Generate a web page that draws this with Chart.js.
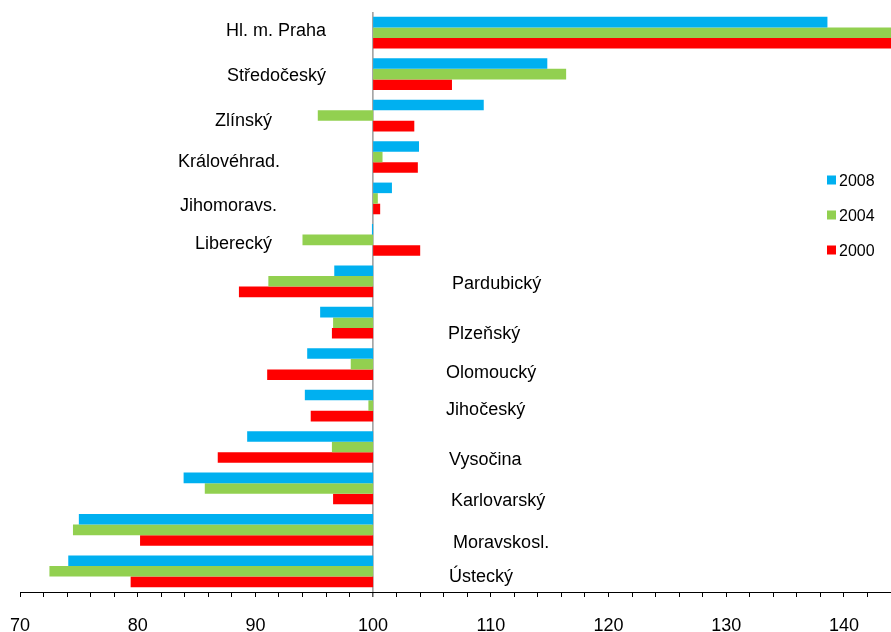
<!DOCTYPE html>
<html>
<head>
<meta charset="utf-8">
<script src="https://cdn.jsdelivr.net/npm/chart.js@4.4.0/dist/chart.umd.min.js"></script>
<style>
  html, body { margin: 0; padding: 0; background: #fff; }
  #wrap { width: 891px; height: 632px; }
</style>
</head>
<body>
<div id="wrap"><canvas id="chartRegions"></canvas></div>
<script>
// Regional index, base 100
const regions = ['Hl. m. Praha', 'Středočeský', 'Zlínský', 'Královéhrad.', 'Jihomoravs.', 'Liberecký',
  'Pardubický', 'Plzeňský', 'Olomoucký', 'Jihočeský', 'Vysočina', 'Karlovarský', 'Moravskosl.', 'Ústecký'];
const values2008 = [138.6, 114.8, 109.4, 103.9, 101.6, 99.9, 96.7, 95.5, 94.4, 94.2, 89.3, 83.9, 75.0, 74.1];
const values2004 = [148.0, 116.4, 95.3, 100.8, 100.4, 94.0, 91.1, 96.6, 98.1, 99.6, 96.5, 85.7, 74.5, 72.5];
const values2000 = [152.0, 106.7, 103.5, 103.8, 100.6, 104.0, 88.6, 96.5, 91.0, 94.7, 86.8, 96.6, 80.2, 79.4];
const baseValue = 100;
const xTickLabels = [70, 80, 90, 100, 110, 120, 130, 140];

// where each region name sits: px from the 100 line (negative = left side, right-aligned), px from row centre
const labelPlacement = [[-47, -3], [-47, 0], [-101, 3.5], [-93, 3], [-96, 5.6], [-101, 3],
  [79, 1.7], [75, 9.8], [73, 7.8], [73, 3.4], [76, 11], [78, 11], [80, 11.6], [76, 4.5]];

const FONT = '"Liberation Sans", Arial, sans-serif';

const regionLabels = {
  id: 'regionLabels',
  afterDatasetsDraw(chart) {
    const { ctx, chartArea, scales: { x, y } } = chart;
    const x0 = x.getPixelForValue(baseValue);
    ctx.save();
    ctx.fillStyle = '#000';
    ctx.textBaseline = 'alphabetic';
    ctx.font = '18px ' + FONT;
    regions.forEach((name, i) => {
      const [dx, dy] = labelPlacement[i];
      ctx.textAlign = dx < 0 ? 'right' : 'left';
      ctx.fillText(name, x0 + dx, y.getPixelForValue(i) + dy + 6.5);
    });

    // legend on the right
    ctx.font = '16px ' + FONT;
    ctx.textAlign = 'left';
    chart.data.datasets.forEach((ds, i) => {
      const cy = chartArea.top + 168 + i * 35;
      const lx = chartArea.right - 64;
      ctx.fillStyle = ds.backgroundColor;
      ctx.fillRect(lx, cy - 4.5, 9, 9);
      ctx.fillStyle = '#000';
      ctx.fillText(ds.label, lx + 12, cy + 6);
    });
    ctx.restore();
  }
};

const ctxRegions = document.getElementById('chartRegions').getContext('2d');

new Chart(ctxRegions, {
  type: 'bar',
  data: {
    labels: regions,
    datasets: [
      { label: '2008', data: values2008.map(v => [baseValue, v]), backgroundColor: '#00B0F0' },
      { label: '2004', data: values2004.map(v => [baseValue, v]), backgroundColor: '#92D050' },
      { label: '2000', data: values2000.map(v => [baseValue, v]), backgroundColor: '#FF0000' }
    ]
  },
  options: {
    indexAxis: 'y',
    responsive: true,
    maintainAspectRatio: false,
    animation: false,
    // tall tick line box pushes the numbers down; negative bottom lets it run past the edge
    layout: { padding: { top: 12, left: 20, right: 0, bottom: -23 } },
    datasets: {
      bar: { categoryPercentage: 0.765, barPercentage: 1, borderWidth: 0 }
    },
    plugins: {
      legend: { display: false },
      tooltip: { enabled: false }
    },
    scales: {
      x: {
        type: 'linear',
        min: 70,
        max: 144,
        border: { display: true, color: '#000', width: 1 },
        grid: {
          color: c => (c.tick && c.tick.value === baseValue ? '#A6A6A6' : 'rgba(0,0,0,0)'),
          lineWidth: c => (c.tick && c.tick.value === baseValue ? 1.7 : 1),
          tickColor: '#000',
          tickWidth: 1,
          tickLength: 5
        },
        ticks: {
          stepSize: 2,
          autoSkip: false,
          maxRotation: 0,
          padding: 0,
          color: '#000',
          font: { family: FONT, size: 18, lineHeight: 58 / 18 },
          callback: v => (xTickLabels.includes(v) ? String(v) : '')
        }
      },
      y: {
        type: 'category',
        display: false
      }
    }
  },
  plugins: [regionLabels]
});
</script>
</body>
</html>
